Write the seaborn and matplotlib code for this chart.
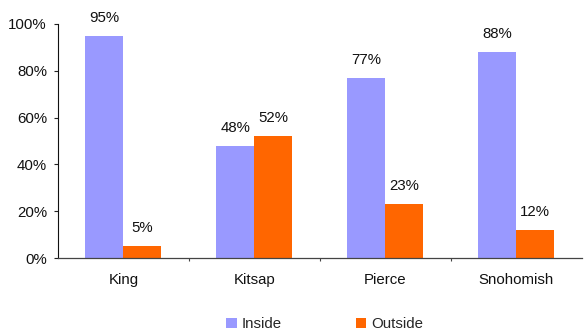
import matplotlib
matplotlib.use("Agg")
import matplotlib.pyplot as plt
import seaborn as sns
import pandas as pd
import numpy as np
from matplotlib.patches import Patch
from matplotlib.ticker import FixedLocator, PercentFormatter

categories = ["King", "Kitsap", "Pierce", "Snohomish"]
inside = [95, 48, 77, 88]
outside = [5, 52, 23, 12]
series = ["Inside", "Outside"]
colors = ["#9999FF", "#FF6600"]

df = pd.DataFrame({
    "County": categories * 2,
    "Location": [series[0]] * 4 + [series[1]] * 4,
    "Value": [v / 100 for v in inside + outside],
})

sns.set_style("white")
plt.rcParams["font.family"] = ["Liberation Sans", "DejaVu Sans"]

FS = 10.8
fig = plt.figure(figsize=(5.84, 3.33), dpi=100)
ax = fig.add_axes([0.0993, 0.225, 0.897, 0.703])

sns.barplot(data=df, x="County", y="Value", hue="Location", palette=colors,
            width=0.58, gap=0, saturation=1, ax=ax, legend=False, linewidth=0)

for cont in ax.containers:
    ax.bar_label(cont, labels=[f"{v*100:.0f}%" for v in cont.datavalues],
                 padding=8, fontsize=FS, color="#111111")

ax.set_ylim(0, 1)
ax.set_xlim(-0.5, 3.5)
ax.set_yticks(np.arange(0, 1.01, 0.2))
ax.yaxis.set_major_formatter(PercentFormatter(1.0, decimals=0))
ax.set_xlabel("")
ax.set_ylabel("")
ax.tick_params(axis="y", labelsize=FS, length=3, width=0.8, color="#222222",
               direction="out", left=True, pad=5, labelcolor="#111111")
ax.tick_params(axis="x", which="major", labelsize=FS, length=0, pad=11, labelcolor="#111111")
ax.xaxis.set_minor_locator(FixedLocator([0.5, 1.5, 2.5]))
ax.tick_params(axis="x", which="minor", length=2.5, width=0.8, color="#444444",
               direction="out", bottom=True)
for s in ["top", "right"]:
    ax.spines[s].set_visible(False)
ax.spines["left"].set_color("#111111")
ax.spines["bottom"].set_color("#444444")
ax.spines["left"].set_linewidth(0.8)
ax.spines["bottom"].set_linewidth(0.9)

handles = [Patch(facecolor=c, edgecolor="none", label=l) for c, l in zip(colors, series)]
fig.legend(handles=handles, loc="lower center", bbox_to_anchor=(0.556, -0.035), ncol=2,
           frameon=False, fontsize=FS, handlelength=0.7, handleheight=0.7,
           handletextpad=0.35, columnspacing=4.9)

fig.savefig("out.png", dpi=100)
